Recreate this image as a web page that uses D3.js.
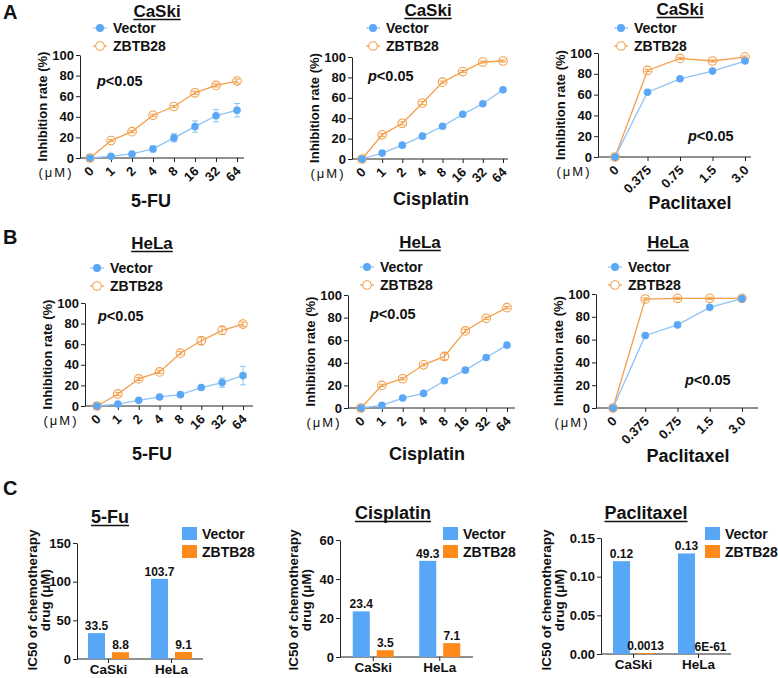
<!DOCTYPE html>
<html><head><meta charset="utf-8">
<script src="https://cdn.jsdelivr.net/npm/d3@7"></script>
<style>
body{margin:0;background:#fff}
svg{display:block}
text{font-family:"Liberation Sans",Arial,sans-serif;font-weight:bold;fill:#111}
</style>
</head><body>
<svg id="c" width="778" height="678"></svg>
<script>
// ---------- DATA ----------
const doseLabels = ["0","1","2","4","8","16","32","64"];
const paclitaxelDoseLabels = ["0","0.375","0.75","1.5","3.0"];
const seriesNames = ["Vector","ZBTB28"];
const inhibitionTicks = [0,20,40,60,80,100];

// A: CaSki
const caski5FUVector     = [0,1.6,3.9,8.8,19.5,30.5,41,46.4];
const caski5FUVectorErr  = [0,0.5,1,3,4,5.5,6,6.5];
const caski5FUZbtb       = [0,16.9,25.6,41.5,50,63.3,70.5,74.7];
const caski5FUZbtbErr    = [0,1,1,1,1,1.5,1.5,2];
const caskiCisVector     = [0,5.8,13.6,22.4,32.1,43.8,54.2,67.9];
const caskiCisVectorErr  = [0,1,1,1,1,1,1,1];
const caskiCisZbtb       = [0,23.7,35,54.9,75.3,85.7,95.1,96.1];
const caskiCisZbtbErr    = [0,1.5,1.5,1.5,1,1,1,1];
const caskiPacVector     = [0,62.3,75.2,82.6,92.3];
const caskiPacVectorErr  = [0,1,1,1,1];
const caskiPacZbtb       = [0,83.2,94.8,92.3,96.1];
const caskiPacZbtbErr    = [0,1,1,1,1];
// B: HeLa
const hela5FUVector      = [0,1.9,5.5,8.8,11,17.9,22.7,29.5];
const hela5FUVectorErr   = [0,1,1,1,1,1.5,4.5,9];
const hela5FUZbtb        = [0,11.7,26.3,33.1,51.3,63.3,73.4,79.5];
const hela5FUZbtbErr     = [0,1.5,1.5,1.5,1.5,3.5,4,2];
const helaCisVector      = [0,2.4,8.8,12.9,24.1,33.5,44.7,55.6];
const helaCisVectorErr   = [0,1,1,1,1,1,1,1];
const helaCisZbtb        = [0,20,25.9,38.2,45.6,68.2,79.4,88.8];
const helaCisZbtbErr     = [0,1,1,1,3,1.5,1,1];
const helaPacVector      = [0,63.6,72.9,88.3,95.9];
const helaPacVectorErr   = [0,1,1,1,1];
const helaPacZbtb        = [0,95.6,96.2,96.2,96.2];
const helaPacZbtbErr     = [0,1,1,1,1];

// C: IC50
const cellLines = ["CaSki","HeLa"];
const fuIC50Vector  = [33.5,103.7];
const fuIC50Zbtb    = [8.8,9.1];
const fuTicks       = [0,50,100,150];
const cisIC50Vector = [23.4,49.3];
const cisIC50Zbtb   = [3.5,7.1];
const cisTicks      = [0,20,40,60];
const pacIC50Vector = [0.12,0.13];
const pacIC50Zbtb   = [0.0013,6e-61];
const pacTicks      = [0,0.05,0.10,0.15];

// ---------- STYLE ----------
const blue = "#5aa8f5", blueLine = "#8ec3f5";
const orange = "#f2a04c";
const barBlue = "#58a6f6", barOrange = "#ff8a1c";
const axisColor = "#222";
const FONT = '"Liberation Sans",Arial,sans-serif';

const svg = d3.select("#c");

function styleText(sel, size){
  sel.style("font-size",size+"px").style("font-weight","bold").attr("fill","#111").style("font-family",FONT);
}

function underlinedTitle(g, text, cx, by, size){
  const t = g.append("text").attr("x",cx).attr("y",by).attr("text-anchor","middle")
    .style("font-size",size+"px").text(text);
  const w = t.node().getComputedTextLength();
  g.append("line").attr("x1",cx-w/2).attr("x2",cx+w/2).attr("y1",by+2.5).attr("y2",by+2.5)
    .attr("stroke","#111").attr("stroke-width",1.6);
}

// ---------- LINE PANELS ----------
const linePanels = [
 {title:"CaSki", drug:"5-FU", doses:doseLabels, v:caski5FUVector, ve:caski5FUVectorErr, z:caski5FUZbtb, ze:caski5FUZbtbErr,
  ax:80, x0:90, x1:237, xe:244, y0:158, y1:55, tx:157, ty:17, lx:100, ly:28, dlx:151, dly:207, px:97, py:86},
 {title:"CaSki", drug:"Cisplatin", doses:doseLabels, v:caskiCisVector, ve:caskiCisVectorErr, z:caskiCisZbtb, ze:caskiCisZbtbErr,
  ax:352, x0:362, x1:503, xe:508, y0:159, y1:57, tx:428, ty:16, lx:373, ly:28, dlx:431, dly:205, px:368, py:81},
 {title:"CaSki", drug:"Paclitaxel", doses:paclitaxelDoseLabels, v:caskiPacVector, ve:caskiPacVectorErr, z:caskiPacZbtb, ze:caskiPacZbtbErr,
  ax:598, x0:615, x1:745, xe:751, y0:157, y1:53, tx:680, ty:15, lx:621, ly:28, dlx:690, dly:209, px:688, py:141},
 {title:"HeLa", drug:"5-FU", doses:doseLabels, v:hela5FUVector, ve:hela5FUVectorErr, z:hela5FUZbtb, ze:hela5FUZbtbErr,
  ax:85, x0:97, x1:243, xe:253, y0:406, y1:303, tx:152, ty:249, lx:97, ly:268, dlx:152, dly:460, px:98, py:321},
 {title:"HeLa", drug:"Cisplatin", doses:doseLabels, v:helaCisVector, ve:helaCisVectorErr, z:helaCisZbtb, ze:helaCisZbtbErr,
  ax:348, x0:361, x1:507, xe:515, y0:408, y1:295, tx:420, ty:248, lx:367, ly:267, dlx:427, dly:460, px:370, py:319},
 {title:"HeLa", drug:"Paclitaxel", doses:paclitaxelDoseLabels, v:helaPacVector, ve:helaPacVectorErr, z:helaPacZbtb, ze:helaPacZbtbErr,
  ax:596, x0:613, x1:742, xe:758, y0:408, y1:294, tx:668, ty:248, lx:615, ly:267, dlx:688, dly:462, px:685, py:385}
];

linePanels.forEach(p => {
  const g = svg.append("g");
  const x = d3.scalePoint().domain(p.doses).range([p.x0,p.x1]);
  const y = d3.scaleLinear().domain([0,100]).range([p.y0,p.y1]);

  // y axis
  const ya = g.append("g").attr("transform",`translate(${p.ax},0)`)
    .call(d3.axisLeft(y).tickValues(inhibitionTicks).tickSize(4).tickSizeOuter(0).tickPadding(2));
  styleText(ya.selectAll("text"), 13);
  ya.selectAll("line,path").attr("stroke",axisColor);

  // x axis
  const xa = g.append("g").attr("transform",`translate(0,${p.y0})`)
    .call(d3.axisBottom(x).tickSize(4).tickSizeOuter(0));
  xa.select("path").remove();
  xa.selectAll("line").attr("stroke",axisColor);
  xa.selectAll("text").attr("y",0).attr("dy",null).attr("text-anchor","end")
    .attr("transform","translate(4,14) rotate(-45)");
  styleText(xa.selectAll("text"), 13);
  g.append("line").attr("x1",p.ax).attr("x2",p.xe).attr("y1",p.y0).attr("y2",p.y0).attr("stroke",axisColor);

  // axis labels
  g.append("text").attr("transform",`translate(${p.ax-38},${(p.y0+p.y1)/2}) rotate(-90)`)
    .attr("text-anchor","middle").attr("dy","0.35em").style("font-size","13px").text("Inhibition rate (%)");
  g.append("text").attr("x",p.ax-24).attr("y",p.y0+19).attr("text-anchor","middle")
    .style("font-size","13px").style("font-weight","normal").style("letter-spacing","2px").text("(μM)");
  g.append("text").attr("x",p.dlx).attr("y",p.dly).attr("text-anchor","middle").style("font-size","18px").text(p.drug);

  underlinedTitle(g, p.title, p.tx, p.ty, 17);

  // p value
  const pt = g.append("text").attr("x",p.px).attr("y",p.py).style("font-size","14.5px");
  pt.append("tspan").style("font-style","italic").text("p");
  pt.append("tspan").text("<0.05");

  // series
  const series = [
    {name:seriesNames[1], vals:p.z, errs:p.ze, line:orange, open:true},
    {name:seriesNames[0], vals:p.v, errs:p.ve, line:blueLine, open:false}
  ];
  series.forEach(s => {
    const eg = g.append("g");
    s.vals.forEach((v,i) => {
      const e = s.errs[i]; if (!e) return;
      const cx = x(p.doses[i]);
      const col = s.open ? orange : blueLine;
      eg.append("line").attr("x1",cx).attr("x2",cx).attr("y1",y(v-e)).attr("y2",y(v+e)).attr("stroke",col);
      [v-e,v+e].forEach(b => eg.append("line").attr("x1",cx-3).attr("x2",cx+3).attr("y1",y(b)).attr("y2",y(b)).attr("stroke",col));
    });
    g.append("path").datum(s.vals)
      .attr("d", d3.line().x((d,i)=>x(p.doses[i])).y(d=>y(d)))
      .attr("fill","none").attr("stroke",s.line).attr("stroke-width",1.3);
    g.selectAll(null).data(s.vals).enter().append("circle")
      .attr("cx",(d,i)=>x(p.doses[i])).attr("cy",d=>y(d))
      .attr("r", s.open ? 4.3 : 3.8)
      .attr("fill", s.open ? "none" : blue)
      .attr("stroke", s.open ? orange : "none").attr("stroke-width",1.1);
  });

  // legend
  [[seriesNames[0],false],[seriesNames[1],true]].forEach(([name,open],k) => {
    const ly = p.ly + k*18;
    g.append("line").attr("x1",p.lx-7).attr("x2",p.lx+7).attr("y1",ly).attr("y2",ly)
      .attr("stroke", open ? orange : blueLine).attr("stroke-width",1.2);
    g.append("circle").attr("cx",p.lx).attr("cy",ly).attr("r", open?4.3:4)
      .attr("fill", open ? "#fff" : blue).attr("stroke", open ? orange : "none").attr("stroke-width",1.1);
    g.append("text").attr("x",p.lx+13).attr("y",ly+5).style("font-size","14px").text(name);
  });
});

// ---------- BAR PANELS ----------
const barPanels = [
 {title:"5-Fu", v:fuIC50Vector, z:fuIC50Zbtb, ticks:fuTicks, max:150, fmt:d3.format("d"),
  ax:77, xe:203, y0:659, y1:543, tx:110, ty:523, legX:182, ytx:32},
 {title:"Cisplatin", v:cisIC50Vector, z:cisIC50Zbtb, ticks:cisTicks, max:60, fmt:d3.format("d"),
  ax:340, xe:473, y0:657, y1:540, tx:393, ty:519, legX:443, ytx:293},
 {title:"Paclitaxel", v:pacIC50Vector, z:pacIC50Zbtb, ticks:pacTicks, max:0.15, fmt:d3.format(".2f"),
  ax:601, xe:731, y0:654, y1:538, tx:646, ty:519, legX:705, ytx:546}
];
const valueLabel = v => (v !== 0 && Math.abs(v) < 1e-6) ? v.toExponential(0).toUpperCase() : String(v);

barPanels.forEach(p => {
  const g = svg.append("g");
  const x = d3.scaleBand().domain(cellLines).range([p.ax,p.xe]);
  const sub = d3.scaleBand().domain(seriesNames).range([-20.5,20.5]).paddingInner(0.29);
  const y = d3.scaleLinear().domain([0,p.max]).range([p.y0,p.y1]);

  const ya = g.append("g").attr("transform",`translate(${p.ax},0)`)
    .call(d3.axisLeft(y).tickValues(p.ticks).tickFormat(p.fmt).tickSize(4).tickSizeOuter(0).tickPadding(2));
  styleText(ya.selectAll("text"), 13);
  ya.selectAll("line,path").attr("stroke",axisColor);

  const xa = g.append("g").attr("transform",`translate(0,${p.y0})`)
    .call(d3.axisBottom(x).tickSize(4).tickSizeOuter(0).tickPadding(1));
  xa.select("path").remove();
  xa.selectAll("line").attr("stroke",axisColor);
  styleText(xa.selectAll("text"), 13.5);
  g.append("line").attr("x1",p.ax).attr("x2",p.xe).attr("y1",p.y0).attr("y2",p.y0).attr("stroke",axisColor);

  const rows = [];
  cellLines.forEach((c,i) => {
    rows.push({c, s:seriesNames[0], v:p.v[i], col:barBlue});
    rows.push({c, s:seriesNames[1], v:p.z[i], col:barOrange});
  });
  g.selectAll(null).data(rows).enter().append("rect")
    .attr("x", d => x(d.c)+x.bandwidth()/2+sub(d.s))
    .attr("width", sub.bandwidth())
    .attr("y", d => y(d.v))
    .attr("height", d => p.y0 - y(d.v))
    .attr("fill", d => d.col);
  g.selectAll(null).data(rows).enter().append("text")
    .attr("x", d => x(d.c)+x.bandwidth()/2+sub(d.s)+sub.bandwidth()/2)
    .attr("y", d => y(d.v)-3)
    .attr("text-anchor","middle").style("font-size","12px")
    .text(d => valueLabel(d.v));

  underlinedTitle(g, p.title, p.tx, p.ty, 18);

  // y title
  const cy = 600;
  g.append("text").attr("transform",`translate(${p.ytx},${cy}) rotate(-90)`).attr("text-anchor","middle")
    .attr("dy","0.35em").style("font-size","13.5px").text("IC50 of chemotherapy");
  g.append("text").attr("transform",`translate(${p.ytx+13.5},${cy}) rotate(-90)`).attr("text-anchor","middle")
    .attr("dy","0.35em").style("font-size","13.5px").text("drug (μM)");

  // legend
  [[seriesNames[0],barBlue],[seriesNames[1],barOrange]].forEach(([name,col],k) => {
    const ly = 527 + k*18;
    g.append("rect").attr("x",p.legX).attr("y",ly).attr("width",15).attr("height",13).attr("fill",col);
    g.append("text").attr("x",p.legX+20).attr("y",ly+11.5).style("font-size","14px").text(name);
  });
});

// panel letters
[["A",19],["B",244],["C",495]].forEach(([l,yy]) =>
  svg.append("text").attr("x",3).attr("y",yy).style("font-size","20px").text(l));
</script>
</body></html>
